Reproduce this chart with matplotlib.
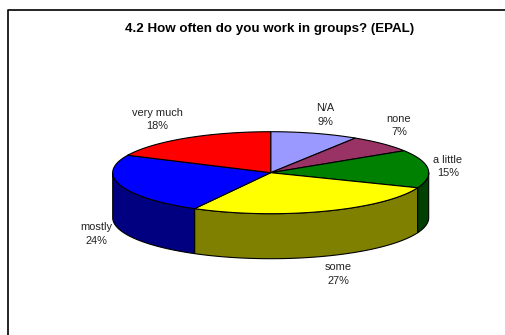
import numpy as np
import matplotlib
matplotlib.use("Agg")
import matplotlib.pyplot as plt
from matplotlib.patches import Polygon
from matplotlib.colors import to_rgb

plt.rcParams["font.family"] = ["Liberation Sans", "DejaVu Sans"]

title = "4.2 How often do you work in groups? (EPAL)"
categories = ["N/A", "none", "a little", "some", "mostly", "very much"]
shares = [9, 7, 15, 27, 24, 18]
colors = ["#9999FF", "#993366", "#008000", "#FFFF00", "#0000FF", "#FF0000"]

# label centres in the pixel frame of the canvas
label_pos = [(325, 115), (399, 125.5), (448, 166.5), (338, 274), (96, 234), (157, 119.5)]

W, H = 506, 335
cx, cy = 270.7, 172.7
rx, ry = 158, 41
depth = 45


def ellipse_pts(a0, a1, dy=0.0, n=80):
    # angles in degrees, clockwise from 12 o'clock
    t = np.radians(np.linspace(a0, a1, n))
    return np.column_stack([cx + rx * np.sin(t), cy - ry * np.cos(t) + dy])


fig = plt.figure(figsize=(W / 100, H / 100), dpi=100)
ax = fig.add_axes([0, 0, 1, 1])
ax.set_xlim(0, W)
ax.set_ylim(H, 0)
ax.axis("off")

# chart area frame (runs off the right and bottom edges)
ax.plot([8, 8, W + 5], [H + 5, 9.5, 9.5], color="black", lw=1.2, solid_capstyle="butt")

total = float(sum(shares))
bounds = np.concatenate([[0], np.cumsum(shares)]) / total * 360.0

# side walls, only the front half (90..270 deg) is visible
for i, c in enumerate(colors):
    a0, a1 = max(bounds[i], 90), min(bounds[i + 1], 270)
    if a1 <= a0:
        continue
    top = ellipse_pts(a0, a1)
    bot = ellipse_pts(a0, a1, dy=depth)[::-1]
    dark = tuple(v * 0.5 for v in to_rgb(c))
    ax.add_patch(Polygon(np.vstack([top, bot]), closed=True, facecolor=dark,
                         edgecolor="black", lw=0.8, zorder=2))

# top faces
for i, c in enumerate(colors):
    arc = ellipse_pts(bounds[i], bounds[i + 1])
    pts = np.vstack([[cx, cy], arc])
    ax.add_patch(Polygon(pts, closed=True, facecolor=c, edgecolor="black",
                         lw=0.8, zorder=3))

for (x, y), name, v in zip(label_pos, categories, shares):
    ax.text(x, y, f"{name}\n{v / total * 100:.0f}%", ha="center", va="center",
            fontsize=7.9, color="#222222", linespacing=1.45)

ax.text(270, 29, title, ha="center", va="center", fontsize=9.6, fontweight="bold")

fig.savefig("out.png", dpi=100)
